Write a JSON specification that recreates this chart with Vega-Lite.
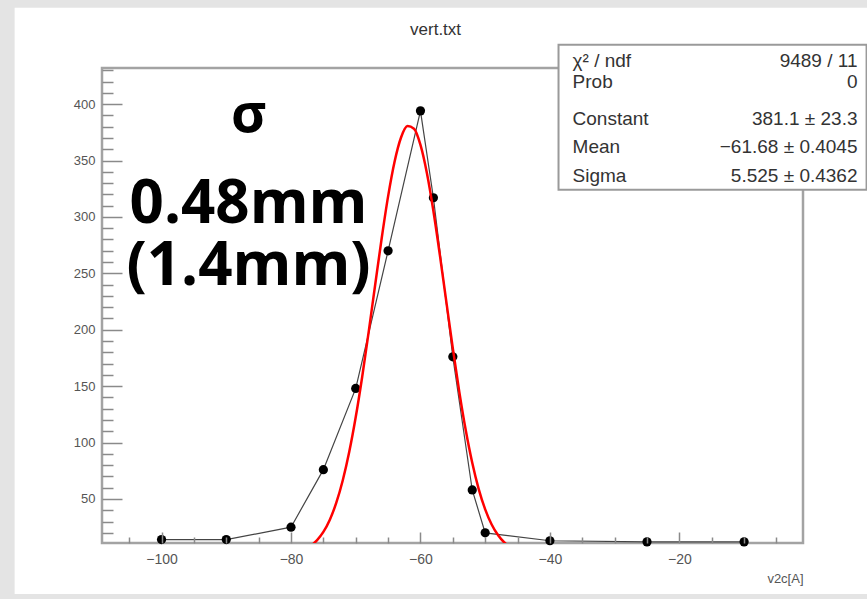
{
  "$schema": "https://vega.github.io/schema/vega-lite/v6.json",
  "width": 701,
  "height": 475,
  "autosize": {"type": "none"},
  "padding": {"left": 102, "top": 68, "right": 64, "bottom": 56},
  "background": "#e4e4e4",
  "config": {"view": {"stroke": null}, "font": "Liberation Sans"},
  "datasets": {
    "points": [
      {"pos": -100, "entries": 14}, {"pos": -90, "entries": 14}, {"pos": -80, "entries": 25},
      {"pos": -75, "entries": 76}, {"pos": -70, "entries": 148}, {"pos": -65, "entries": 270},
      {"pos": -60, "entries": 394}, {"pos": -58, "entries": 317}, {"pos": -55, "entries": 176},
      {"pos": -52, "entries": 58}, {"pos": -50, "entries": 20}, {"pos": -40, "entries": 13},
      {"pos": -25, "entries": 12}, {"pos": -10, "entries": 12}
    ],
    "fit": [
      {"pos": -77, "entries": 8.2}, {"pos": -76, "entries": 13.3}, {"pos": -75, "entries": 20.8},
      {"pos": -74, "entries": 31.7}, {"pos": -73, "entries": 46.7}, {"pos": -72, "entries": 66.6},
      {"pos": -71, "entries": 91.8}, {"pos": -70, "entries": 122.6}, {"pos": -69, "entries": 158.4},
      {"pos": -68, "entries": 198.1}, {"pos": -67, "entries": 239.7}, {"pos": -66, "entries": 280.7},
      {"pos": -65, "entries": 318.2}, {"pos": -64, "entries": 348.9}, {"pos": -63, "entries": 370.4},
      {"pos": -62, "entries": 380.5}, {"pos": -61, "entries": 378.2}, {"pos": -60, "entries": 363.9},
      {"pos": -59, "entries": 338.8}, {"pos": -58, "entries": 305.3}, {"pos": -57, "entries": 266.2},
      {"pos": -56, "entries": 224.7}, {"pos": -55, "entries": 183.5}, {"pos": -54, "entries": 145.0},
      {"pos": -53, "entries": 110.9}, {"pos": -52, "entries": 82.1}, {"pos": -51, "entries": 58.8},
      {"pos": -50, "entries": 40.8}, {"pos": -49, "entries": 27.4}, {"pos": -48, "entries": 17.8},
      {"pos": -47, "entries": 11.2}, {"pos": -46, "entries": 6.8}
    ]
  },
  "layer": [
    {
      "data": {"values": [{}]},
      "mark": {"type": "rect", "fill": "white"},
      "encoding": {
        "x": {"datum": -122.7, "type": "quantitative", "scale": {"domain": [-109.2, -0.9], "nice": false, "zero": false}},
        "x2": {"datum": 20},
        "y": {"datum": 485.3, "type": "quantitative", "scale": {"domain": [11, 432], "nice": false, "zero": false}},
        "y2": {"datum": -34.2}
      }
    },
    {
      "data": {"values": [{}]},
      "mark": {"type": "rect", "fill": "white", "fillOpacity": 0, "stroke": "#a3a3a3", "strokeWidth": 2.5},
      "encoding": {
        "x": {"datum": -109.2, "type": "quantitative", "scale": {"domain": [-109.2, -0.9], "nice": false, "zero": false}},
        "x2": {"datum": -0.9},
        "y": {"datum": 11, "type": "quantitative", "scale": {"domain": [11, 432], "nice": false, "zero": false}},
        "y2": {"datum": 432}
      }
    },
    {
      "data": {"name": "points"},
      "mark": {"type": "line", "color": "#444", "strokeWidth": 1.2},
      "encoding": {
        "x": {"field": "pos", "type": "quantitative", "scale": {"domain": [-109.2, -0.9], "nice": false, "zero": false},
          "axis": {
            "values": [-105, -100, -95, -90, -85, -80, -75, -70, -65, -60, -55, -50, -45, -40, -35, -30, -25, -20, -15, -10, -5],
            "tickCount": 200, "format": "d",
            "labelExpr": "datum.value % 20 === 0 ? datum.label : ''",
            "tickSize": {"condition": {"test": "datum.value % 20 === 0", "value": -11}, "value": -6},
            "tickColor": "#8a8a8a", "tickWidth": 1.5,
            "domain": false, "grid": false, "zindex": 1,
            "labelPadding": 20, "labelFontSize": 14, "labelColor": "#555", "labelFont": "Liberation Sans",
            "labelFlush": false, "labelOverlap": false,
            "title": "v2c[A]", "titleFontSize": 13, "titleFontWeight": "normal", "titleColor": "#555",
            "titleAnchor": "end", "titleAlign": "right", "titleBaseline": "middle", "titleX": 701, "titleY": 35
          }
        },
        "y": {"field": "entries", "type": "quantitative", "scale": {"domain": [11, 432], "nice": false, "zero": false},
          "axis": {
            "values": [20, 30, 40, 50, 60, 70, 80, 90, 100, 110, 120, 130, 140, 150, 160, 170, 180, 190, 200, 210, 220, 230, 240, 250, 260, 270, 280, 290, 300, 310, 320, 330, 340, 350, 360, 370, 380, 390, 400, 410, 420, 430],
            "tickCount": 200, "format": "d",
            "labelExpr": "datum.value % 50 === 0 ? datum.label : ''",
            "tickSize": {"condition": {"test": "datum.value % 50 === 0", "value": -20}, "value": -11},
            "tickColor": "#8a8a8a", "tickWidth": 1.5,
            "domain": false, "grid": false, "zindex": 1,
            "labelPadding": 27, "labelFontSize": 13, "labelColor": "#555", "labelFont": "Liberation Sans",
            "labelFlush": false, "labelOverlap": false,
            "title": null
          }
        }
      }
    },
    {
      "data": {"name": "points"},
      "mark": {"type": "circle", "color": "black", "opacity": 1, "size": 85},
      "encoding": {
        "x": {"field": "pos", "type": "quantitative", "scale": {"domain": [-109.2, -0.9], "nice": false, "zero": false}},
        "y": {"field": "entries", "type": "quantitative", "scale": {"domain": [11, 432], "nice": false, "zero": false}}
      }
    },
    {
      "data": {"name": "fit"},
      "mark": {"type": "line", "color": "#ff0000", "strokeWidth": 2.5, "clip": true, "interpolate": "monotone"},
      "encoding": {
        "x": {"field": "pos", "type": "quantitative", "scale": {"domain": [-109.2, -0.9], "nice": false, "zero": false}},
        "y": {"field": "entries", "type": "quantitative", "scale": {"domain": [11, 432], "nice": false, "zero": false}}
      }
    },
    {
      "data": {"values": [{}]},
      "mark": {"type": "rect", "fill": "white", "stroke": "#9a9a9a", "strokeWidth": 2},
      "encoding": {
        "x": {"datum": -38.67, "type": "quantitative", "scale": {"domain": [-109.2, -0.9], "nice": false, "zero": false}},
        "x2": {"datum": 8.92},
        "y": {"datum": 324, "type": "quantitative", "scale": {"domain": [11, 432], "nice": false, "zero": false}},
        "y2": {"datum": 452.5}
      }
    },
    {
      "data": {"values": [{"t": "vert.txt"}]},
      "mark": {"type": "text", "align": "center", "baseline": "middle", "fontSize": 17, "color": "#333", "font": "Liberation Sans"},
      "encoding": {
        "x": {"datum": -57.67, "type": "quantitative", "scale": {"domain": [-109.2, -0.9], "nice": false, "zero": false}},
        "y": {"datum": 465.8, "type": "quantitative", "scale": {"domain": [11, 432], "nice": false, "zero": false}},
        "text": {"field": "t"}
      }
    },
    {
      "data": {"values": [{"t": "χ² / ndf"}]},
      "mark": {"type": "text", "align": "left", "baseline": "middle", "fontSize": 19, "color": "#333", "font": "Liberation Sans"},
      "encoding": {
        "x": {"datum": -36.5, "type": "quantitative", "scale": {"domain": [-109.2, -0.9], "nice": false, "zero": false}},
        "y": {"datum": 438.3, "type": "quantitative", "scale": {"domain": [11, 432], "nice": false, "zero": false}},
        "text": {"field": "t"}
      }
    },
    {
      "data": {"values": [{"t": "Prob"}]},
      "mark": {"type": "text", "align": "left", "baseline": "middle", "fontSize": 19, "color": "#333", "font": "Liberation Sans"},
      "encoding": {
        "x": {"datum": -36.5, "type": "quantitative", "scale": {"domain": [-109.2, -0.9], "nice": false, "zero": false}},
        "y": {"datum": 419.7, "type": "quantitative", "scale": {"domain": [11, 432], "nice": false, "zero": false}},
        "text": {"field": "t"}
      }
    },
    {
      "data": {"values": [{"t": "Constant"}]},
      "mark": {"type": "text", "align": "left", "baseline": "middle", "fontSize": 19, "color": "#333", "font": "Liberation Sans"},
      "encoding": {
        "x": {"datum": -36.5, "type": "quantitative", "scale": {"domain": [-109.2, -0.9], "nice": false, "zero": false}},
        "y": {"datum": 386.9, "type": "quantitative", "scale": {"domain": [11, 432], "nice": false, "zero": false}},
        "text": {"field": "t"}
      }
    },
    {
      "data": {"values": [{"t": "Mean"}]},
      "mark": {"type": "text", "align": "left", "baseline": "middle", "fontSize": 19, "color": "#333", "font": "Liberation Sans"},
      "encoding": {
        "x": {"datum": -36.5, "type": "quantitative", "scale": {"domain": [-109.2, -0.9], "nice": false, "zero": false}},
        "y": {"datum": 362.1, "type": "quantitative", "scale": {"domain": [11, 432], "nice": false, "zero": false}},
        "text": {"field": "t"}
      }
    },
    {
      "data": {"values": [{"t": "Sigma"}]},
      "mark": {"type": "text", "align": "left", "baseline": "middle", "fontSize": 19, "color": "#333", "font": "Liberation Sans"},
      "encoding": {
        "x": {"datum": -36.5, "type": "quantitative", "scale": {"domain": [-109.2, -0.9], "nice": false, "zero": false}},
        "y": {"datum": 336.4, "type": "quantitative", "scale": {"domain": [11, 432], "nice": false, "zero": false}},
        "text": {"field": "t"}
      }
    },
    {
      "data": {"values": [{"t": "9489 / 11"}]},
      "mark": {"type": "text", "align": "right", "baseline": "middle", "fontSize": 19, "color": "#333", "font": "Liberation Sans"},
      "encoding": {
        "x": {"datum": 7.52, "type": "quantitative", "scale": {"domain": [-109.2, -0.9], "nice": false, "zero": false}},
        "y": {"datum": 438.3, "type": "quantitative", "scale": {"domain": [11, 432], "nice": false, "zero": false}},
        "text": {"field": "t"}
      }
    },
    {
      "data": {"values": [{"t": "0"}]},
      "mark": {"type": "text", "align": "right", "baseline": "middle", "fontSize": 19, "color": "#333", "font": "Liberation Sans"},
      "encoding": {
        "x": {"datum": 7.52, "type": "quantitative", "scale": {"domain": [-109.2, -0.9], "nice": false, "zero": false}},
        "y": {"datum": 419.7, "type": "quantitative", "scale": {"domain": [11, 432], "nice": false, "zero": false}},
        "text": {"field": "t"}
      }
    },
    {
      "data": {"values": [{"t": "381.1 ±  23.3"}]},
      "mark": {"type": "text", "align": "right", "baseline": "middle", "fontSize": 19, "color": "#333", "font": "Liberation Sans"},
      "encoding": {
        "x": {"datum": 7.52, "type": "quantitative", "scale": {"domain": [-109.2, -0.9], "nice": false, "zero": false}},
        "y": {"datum": 386.9, "type": "quantitative", "scale": {"domain": [11, 432], "nice": false, "zero": false}},
        "text": {"field": "t"}
      }
    },
    {
      "data": {"values": [{"t": "−61.68 ± 0.4045"}]},
      "mark": {"type": "text", "align": "right", "baseline": "middle", "fontSize": 19, "color": "#333", "font": "Liberation Sans"},
      "encoding": {
        "x": {"datum": 7.52, "type": "quantitative", "scale": {"domain": [-109.2, -0.9], "nice": false, "zero": false}},
        "y": {"datum": 362.1, "type": "quantitative", "scale": {"domain": [11, 432], "nice": false, "zero": false}},
        "text": {"field": "t"}
      }
    },
    {
      "data": {"values": [{"t": "5.525 ± 0.4362"}]},
      "mark": {"type": "text", "align": "right", "baseline": "middle", "fontSize": 19, "color": "#333", "font": "Liberation Sans"},
      "encoding": {
        "x": {"datum": 7.52, "type": "quantitative", "scale": {"domain": [-109.2, -0.9], "nice": false, "zero": false}},
        "y": {"datum": 336.4, "type": "quantitative", "scale": {"domain": [11, 432], "nice": false, "zero": false}},
        "text": {"field": "t"}
      }
    },
    {
      "data": {"values": [{"t": "σ"}]},
      "mark": {"type": "text", "align": "center", "baseline": "alphabetic", "fontSize": 54, "fontWeight": "bold", "color": "black", "font": "Open Sans"},
      "encoding": {
        "x": {"datum": -86.56, "type": "quantitative", "scale": {"domain": [-109.2, -0.9], "nice": false, "zero": false}},
        "y": {"datum": 375.4, "type": "quantitative", "scale": {"domain": [11, 432], "nice": false, "zero": false}},
        "text": {"field": "t"}
      }
    },
    {
      "data": {"values": [{"t": "0.48mm"}]},
      "mark": {"type": "text", "align": "center", "baseline": "alphabetic", "fontSize": 60, "fontWeight": "bold", "color": "black", "font": "Open Sans"},
      "encoding": {
        "x": {"datum": -86.56, "type": "quantitative", "scale": {"domain": [-109.2, -0.9], "nice": false, "zero": false}},
        "y": {"datum": 294.7, "type": "quantitative", "scale": {"domain": [11, 432], "nice": false, "zero": false}},
        "text": {"field": "t"}
      }
    },
    {
      "data": {"values": [{"t": "(1.4mm)"}]},
      "mark": {"type": "text", "align": "center", "baseline": "alphabetic", "fontSize": 60, "fontWeight": "bold", "color": "black", "font": "Open Sans"},
      "encoding": {
        "x": {"datum": -86.56, "type": "quantitative", "scale": {"domain": [-109.2, -0.9], "nice": false, "zero": false}},
        "y": {"datum": 239.7, "type": "quantitative", "scale": {"domain": [11, 432], "nice": false, "zero": false}},
        "text": {"field": "t"}
      }
    }
  ]
}
